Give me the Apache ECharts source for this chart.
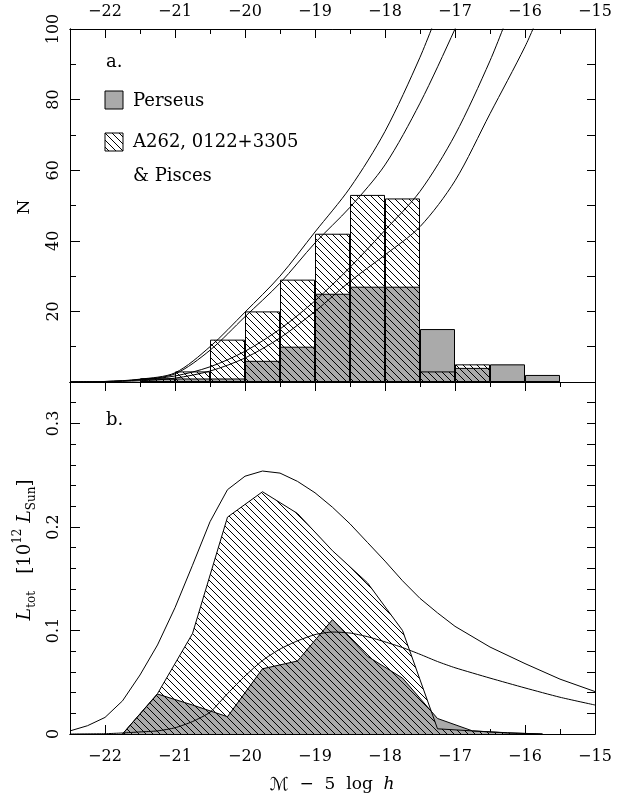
<!DOCTYPE html>
<html><head><meta charset="utf-8">
<script src="https://cdn.jsdelivr.net/npm/echarts@6/dist/echarts.min.js"></script>
<style>html,body{margin:0;padding:0;background:#fff}#c{width:625px;height:803px}</style>
</head><body><div id="c"></div>
<script>
// ---------- data ----------
const binCenters = [-21.25,-20.75,-20.25,-19.75,-19.25,-18.75,-18.25,-17.75,-17.25,-16.75,-16.25,-15.75];
const perseusN   = [1, 1, 1, 6, 10, 25, 27, 27, 15, 4, 5, 2];
const othersN    = [1, 3, 12, 20, 29, 42, 53, 52, 3, 5, 0, 0];

const curveA = [[-22.5,0.05],[-22,0.15],[-21.5,0.8],[-21,2.6],[-20.5,10],[-20,19.8],[-19.5,30],[-19,42.5],[-18.5,55],[-18,71],[-17.5,92],[-17.2,107]];
const curveB = [[-22.5,0.04],[-22,0.12],[-21.5,0.7],[-21,2.3],[-20.5,9],[-20,18.5],[-19.5,28],[-19,39.4],[-18.5,49.5],[-18,61.5],[-17.5,79],[-17,100],[-16.9,105]];
const curveC = [[-22.5,0],[-22,0.15],[-21.5,0.6],[-21,1.7],[-20.5,4.3],[-20,8.7],[-19.5,15],[-19,23],[-18.5,32.5],[-18,43],[-17.5,54],[-17,70],[-16.5,91],[-16.2,106]];
const curveD = [[-22.5,0],[-22,0.1],[-21.5,0.35],[-21,1.1],[-20.5,3.1],[-20,6.8],[-19.5,12.5],[-19,20],[-18.5,28.5],[-18,36],[-17.5,44],[-17,57],[-16.5,76],[-16,95],[-15.8,104]];

const perseusL = [[-21.75,0],[-21.25,0.0386],[-20.75,0.028],[-20.25,0.0167],[-19.75,0.063],[-19.25,0.0705],[-18.75,0.1105],[-18.25,0.075],[-17.75,0.054],[-17.25,0.015],[-16.75,0.003],[-16.25,0.0012],[-15.75,0]];
const othersL  = [[-21.75,0],[-21.25,0.039],[-20.75,0.097],[-20.25,0.2095],[-19.75,0.234],[-19.25,0.213],[-18.75,0.177],[-18.25,0.146],[-17.75,0.100],[-17.25,0.005],[-16.75,0.003],[-16.25,0.001],[-15.75,0]];
const outerCurve = [[-22.5,0.003],[-22.25,0.008],[-22,0.016],[-21.75,0.032],[-21.5,0.057],[-21.25,0.086],[-21,0.122],[-20.75,0.163],[-20.5,0.205],[-20.25,0.236],[-20,0.249],[-19.75,0.254],[-19.5,0.252],[-19.25,0.244],[-19,0.233],[-18.75,0.219],[-18.5,0.203],[-18.25,0.185],[-18,0.167],[-17.75,0.148],[-17.5,0.131],[-17.25,0.117],[-17,0.104],[-16.5,0.084],[-16,0.068],[-15.5,0.053],[-15,0.041]];
const lowerCurve = [[-22.5,0],[-22,0.0003],[-21.75,0.001],[-21.5,0.002],[-21.25,0.003],[-21,0.006],[-20.75,0.012],[-20.5,0.021],[-20.25,0.039],[-20,0.056],[-19.75,0.071],[-19.5,0.082],[-19.25,0.090],[-19,0.096],[-18.75,0.0985],[-18.5,0.0975],[-18.25,0.094],[-18,0.089],[-17.75,0.0835],[-17.5,0.077],[-17.25,0.070],[-17,0.064],[-16.5,0.054],[-16,0.0445],[-15.5,0.0355],[-15,0.028]];

const xMajorTicks = [-22,-21,-20,-19,-18,-17,-16,-15];

// ---------- styles ----------
const FONT = 'DejaVu Serif';
const GREY = '#aaaaaa';
function hatch(s){
  const c=document.createElement('canvas'); c.width=s; c.height=s;
  const g=c.getContext('2d');
  g.strokeStyle='#000'; g.lineWidth=1;
  g.beginPath();
  g.moveTo(-1,-1); g.lineTo(s+1,s+1);
  g.moveTo(-1,s-1); g.lineTo(1,s+1);
  g.moveTo(s-1,-1); g.lineTo(s+1,1);
  g.stroke();
  return c;
}
const hatchPat = {image: hatch(7), repeat:'repeat'};

const fmtX = v => (v<0?'\u2212':'') + Math.abs(v);
const lineC = {color:'#000', width:1};
const baseX = {type:'value', min:-22.5, max:-15, splitLine:{show:false},
  axisLine:{show:true, onZero:false, lineStyle:lineC}};
const lbl = {fontFamily:FONT, fontSize:16, color:'#000'};
function majX(grid,pos,labels,margin){
  return Object.assign({}, baseX, {gridIndex:grid, position:pos,
    axisTick:{show:true, inside:true, length:9, customValues:xMajorTicks, lineStyle:lineC},
    axisLabel: labels ? Object.assign({show:true, customValues:xMajorTicks, formatter:fmtX, margin:margin}, lbl) : {show:false}});
}
function minX(grid,pos){
  return Object.assign({}, baseX, {gridIndex:grid, position:pos, interval:0.5,
    axisTick:{show:true, inside:true, length:5, lineStyle:lineC}, axisLabel:{show:false}});
}
function yAx(grid,pos,min,max,interval,len,labelFmt){
  return {type:'value', gridIndex:grid, position:pos, min:min, max:max, interval:interval,
    splitLine:{show:false}, axisLine:{show:true, onZero:false, lineStyle:lineC},
    axisTick:{show:true, inside:true, length:len, lineStyle:lineC},
    axisLabel: labelFmt ? Object.assign({show:true, rotate:90, formatter:labelFmt, margin:8}, lbl) : {show:false}};
}
const fmtYTop = v => v===0 ? '' : String(v);
const fmtYBot = v => { const r=Math.round(v*10)/10; if (Math.abs(v-r)>1e-6) return ''; return r===0?'0':String(r); };

function curve(data, xi, yi, sm){
  return {type:'line', xAxisIndex:xi, yAxisIndex:yi, data:data, showSymbol:false, symbol:'none',
    smooth:sm, lineStyle:lineC, z:5, silent:true, animation:false, clip:true};
}
const legFont = '18px '+FONT;

const option = {
  animation:false,
  grid:[{left:70, top:29, width:525, height:353}, {left:70, top:382, width:525, height:352}],
  xAxis:[ majX(0,'top',true,9), minX(0,'top'),
          Object.assign({}, baseX, {gridIndex:0, position:'bottom', axisTick:{show:false}, axisLabel:{show:false}}),
          majX(1,'top',false,0), minX(1,'top'), majX(1,'bottom',true,15), minX(1,'bottom') ],
  yAxis:[ yAx(0,'left',0,100,20,10,fmtYTop), yAx(0,'left',0,100,10,6,null), yAx(0,'right',0,100,10,8,null),
          yAx(1,'left',0,0.34,0.1,10,fmtYBot), yAx(1,'left',0,0.34,0.02,6,null), yAx(1,'right',0,0.34,0.02,8,null) ],
  series:[
    {type:'bar', name:'Perseus', xAxisIndex:0, yAxisIndex:0, barWidth:35, barGap:'-100%',
     data: binCenters.map((x,i)=>[x, perseusN[i]]),
     itemStyle:{color:GREY, borderColor:'#000', borderWidth:1}, z:2, silent:true},
    {type:'bar', name:'A262', xAxisIndex:0, yAxisIndex:0, barWidth:35, barGap:'-100%',
     data: binCenters.map((x,i)=>[x, othersN[i]]),
     itemStyle:{color:hatchPat, borderColor:'#000', borderWidth:1}, z:3, silent:true},
    curve(curveA,0,0,0.3), curve(curveB,0,0,0.3), curve(curveC,0,0,0.3), curve(curveD,0,0,0.3),
    {type:'line', xAxisIndex:3, yAxisIndex:3, data:perseusL, showSymbol:false, symbol:'none',
     lineStyle:lineC, areaStyle:{color:GREY, opacity:1}, z:2, silent:true},
    {type:'line', xAxisIndex:3, yAxisIndex:3, data:othersL, showSymbol:false, symbol:'none',
     lineStyle:lineC, areaStyle:{color:hatchPat, opacity:1}, z:3, silent:true},
    curve(outerCurve,3,3,false), curve(lowerCurve,3,3,0.2)
  ],
  graphic:[
    {type:'text', x:106, y:62, style:{text:'a.', font:legFont, fill:'#000', textVerticalAlign:'middle'}},
    {type:'text', x:106, y:420, style:{text:'b.', font:legFont, fill:'#000', textVerticalAlign:'middle'}},
    {type:'rect', shape:{x:105, y:91, width:18, height:18}, style:{fill:GREY, stroke:'#000', lineWidth:1}},
    {type:'text', x:133, y:101, style:{text:'Perseus', font:legFont, fill:'#000', textVerticalAlign:'middle'}},
    {type:'rect', shape:{x:105, y:133, width:18, height:18}, style:{fill:hatchPat, stroke:'#000', lineWidth:1}},
    {type:'text', x:133, y:142, style:{text:'A262, 0122+3305', font:legFont, fill:'#000', textVerticalAlign:'middle'}},
    {type:'text', x:133, y:176, style:{text:'& Pisces', font:legFont, fill:'#000', textVerticalAlign:'middle'}},
    {type:'text', x:25, y:207, rotation:Math.PI/2, style:{text:'N', font:'17px '+FONT, fill:'#000', textAlign:'center', textVerticalAlign:'middle'}},
    {type:'text', x:25, y:550, rotation:Math.PI/2, style:{
      text:'{it|L}{sub|tot}   [10{sup|12} {it|L}{sub|Sun}]', font:'18px '+FONT, fill:'#000',
      textAlign:'center', textVerticalAlign:'middle',
      rich:{ it:{fontFamily:FONT, fontSize:19, fontStyle:'italic', lineHeight:26, verticalAlign:'middle'},
             sub:{fontFamily:FONT, fontSize:12, lineHeight:13, verticalAlign:'bottom'},
             sup:{fontFamily:FONT, fontSize:12, lineHeight:13, verticalAlign:'top'} } }},
    {type:'text', x:332, y:785, style:{
      text:'{s|\u2133}  \u2212  5  log  {i|h}', font:'17px '+FONT, fill:'#000', textAlign:'center', textVerticalAlign:'middle',
      rich:{ s:{fontFamily:'DejaVu Serif, DejaVu Sans', fontSize:18, fontStyle:'italic'}, i:{fontFamily:FONT, fontSize:17, fontStyle:'italic'} } }}
  ]
};
const chart = echarts.init(document.getElementById('c'), null, {renderer:'canvas'});
chart.setOption(option);
</script>
</body></html>
